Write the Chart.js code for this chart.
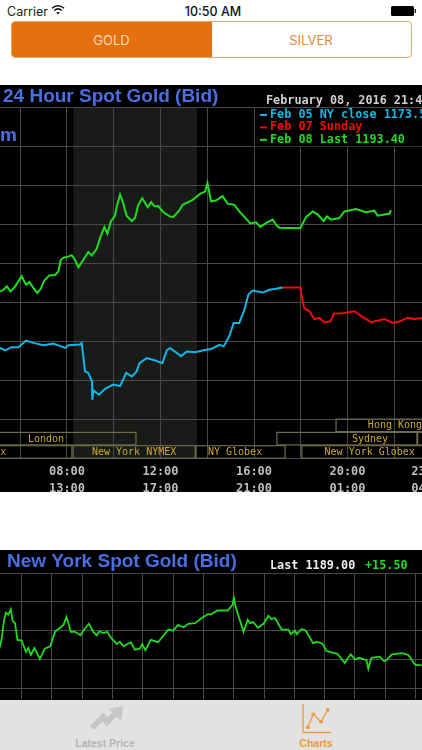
<!DOCTYPE html>
<html><head><meta charset="utf-8">
<script src="https://cdn.jsdelivr.net/npm/chart.js@4"></script>
<style>
html,body{margin:0;padding:0;background:#fff;width:422px;height:750px;overflow:hidden}
#page{position:relative;width:422px;height:750px;overflow:hidden;font-family:Inter,Roboto,sans-serif}
.abs{position:absolute}
canvas{position:absolute;filter:blur(0.35px)}
#c1{left:-40px;top:85px}
#c2{left:0;top:550px}
#seg{left:10.5px;top:21px;width:399px;height:35px;border:1px solid #f0a468;border-radius:4px;overflow:hidden;display:flex;font-size:13px;background:#fff}
#seg div{display:flex;align-items:center;justify-content:center}
#gold{width:200px;background:#e4700e;color:#f6d8bc}
#silver{width:199px;color:#e5853a}
#tab{left:0;top:700px;width:422px;height:50px;background:#e2e2e2}
.tl{position:absolute;top:37px;font-size:10.5px;font-weight:700;text-align:center;font-family:"Liberation Sans",sans-serif}
</style></head><body>
<div id="page">
  <div class="abs" style="left:7px;top:3px;font-size:12.5px;line-height:17px;color:#222">Carrier</div>
  <svg class="abs" style="left:51px;top:4px" width="14" height="12" viewBox="0 0 14 12"><path d="M1 4.2C4.5 1 9.5 1 13 4.2" fill="none" stroke="#111" stroke-width="1.5"/><path d="M3.2 6.5C5.5 4.5 8.5 4.5 10.8 6.5" fill="none" stroke="#111" stroke-width="1.5"/><path d="M5.2 8.6L7 10.6L8.8 8.6C7.7 7.7 6.3 7.7 5.2 8.6Z" fill="#111"/></svg>
  <div class="abs" style="left:113px;top:3px;width:200px;text-align:center;font-size:12.5px;line-height:17px;font-weight:500;color:#111">10:50 AM</div>
  <svg class="abs" style="left:390px;top:5px" width="27" height="12" viewBox="0 0 27 12"><rect x="1" y="1" width="23" height="10" rx="1.5" fill="#000"/><rect x="24.6" y="4" width="1.4" height="4" fill="#333"/></svg>
  <div class="abs" id="seg"><div id="gold">GOLD</div><div id="silver">SILVER</div></div>

  <canvas id="c1" width="510" height="407"></canvas>
  <canvas id="c2" width="422" height="150"></canvas>

  <div class="abs" id="tab">
    <div class="tl" style="left:55px;width:100px;color:#b4b4b4">Latest Price</div>
    <div class="tl" style="left:266px;width:100px;color:#ee9a3c">Charts</div>
  </div>
  <svg class="abs" style="left:0;top:700px" width="422" height="50" viewBox="0 700 422 50">
    <path d="M92 728L103 717L107 722L117 712" fill="none" stroke="#c6c6c6" stroke-width="6"/>
    <path d="M109 709L123 706L121 721Z" fill="#c6c6c6"/>
    <path d="M303 704V732.5H331" fill="none" stroke="#ee9a3c" stroke-width="1.3"/>
    <path d="M307.7 727.3L313.3 714.3L321 721.7L327.7 710" fill="none" stroke="#ee9a3c" stroke-width="1.3"/>
    <circle cx="307.7" cy="727.3" r="1.9" fill="#ee9a3c"/><circle cx="313.3" cy="714.3" r="1.9" fill="#ee9a3c"/><circle cx="321" cy="721.7" r="1.9" fill="#ee9a3c"/><circle cx="327.7" cy="710" r="1.9" fill="#ee9a3c"/>
  </svg>
</div>
<script>
// ---- 24 hour chart data (hour of day, $/oz) ----
const greenHours=[5.13,5.28,5.42,5.59,5.78,6.06,6.25,6.39,6.56,6.73,6.87,7.03,7.24,7.49,7.63,7.73,7.84,7.99,8.20,8.34,8.49,8.70,8.91,9.06,9.27,9.44,9.60,9.73,9.88,10.05,10.15,10.27,10.38,10.55,10.77,10.91,11.05,11.22,11.45,11.60,11.74,11.91,12.12,12.41,12.55,12.77,12.95,13.34,13.69,13.91,14.01,14.16,14.37,14.66,14.87,15.16,15.37,15.59,15.84,16.09,16.27,16.51,16.80,16.94,17.08,17.98,18.23,18.51,18.73,18.98,19.12,19.30,19.65,19.87,20.37,20.79,21.15,21.29,21.58,21.79,21.86];
const greenValues=[1172.9,1173.3,1174.2,1172.9,1174.2,1176.8,1174.6,1175.3,1173.8,1172.5,1173.5,1175.7,1177.0,1177.1,1178.0,1180.9,1181.5,1181.7,1182.2,1181.0,1179.1,1181.0,1183.0,1182.1,1183.8,1187.0,1189.4,1187.7,1190.9,1192.3,1195.1,1197.7,1196.0,1192.3,1190.9,1191.7,1195.1,1196.8,1194.5,1195.8,1194.7,1194.7,1193.2,1192.1,1192.0,1193.4,1195.1,1196.2,1197.9,1198.5,1200.7,1196.0,1196.2,1197.3,1195.4,1195.1,1193.4,1192.0,1190.3,1190.6,1189.4,1190.4,1191.3,1190.0,1189.2,1189.1,1192.0,1193.4,1192.6,1190.9,1192.1,1191.3,1191.7,1193.4,1194.0,1193.2,1193.6,1192.3,1192.6,1192.8,1193.7];
const blueHours=[5.13,5.35,5.63,5.92,6.25,6.56,6.99,7.42,7.92,8.06,8.56,8.63,8.77,8.91,9.07,9.08,9.13,9.37,9.63,9.98,10.27,10.53,10.77,10.98,11.10,11.41,11.77,12.08,12.27,12.41,12.88,13.12,13.48,13.84,14.16,14.52,14.70,14.94,15.13,15.37,15.59,15.76,15.94,16.16,16.37,16.66,16.94,17.23];
const blueValues=[1158.4,1157.8,1158.6,1158.6,1160.3,1159.7,1159.1,1159.5,1158.4,1159.1,1159.3,1159.7,1152.4,1152.0,1149.8,1145.1,1147.5,1146.4,1147.9,1149.0,1148.6,1152.0,1151.1,1152.4,1154.5,1155.8,1155.2,1154.5,1157.8,1158.4,1156.3,1157.5,1157.3,1157.8,1158.1,1159.2,1158.8,1161.4,1164.8,1164.8,1168.2,1172.1,1173.1,1172.9,1172.6,1173.3,1173.6,1173.9];
const redHours=[17.23,17.98,18.01,18.15,18.37,18.58,18.80,19.01,19.27,19.41,19.79,20.29,20.51,21.01,21.58,21.93,22.22,22.58,22.86,23.19];
const redValues=[1173.9,1173.9,1172.5,1168.6,1167.8,1165.8,1166.1,1165.0,1165.2,1167.2,1167.3,1167.8,1166.9,1165.0,1165.8,1164.8,1165.2,1166.1,1165.8,1166.1];

// tick labels: primary and secondary clock per labelled hour
const labelHours=[8,12,16,20,23.5];
const timeTopLabels=["08:00","12:00","16:00","20:00","23:30"];
const timeBottomLabels=["13:00","17:00","21:00","01:00","04:30"];

// market sessions (start hour, end hour, label hour, row from bottom)
const sessionNames=["NY Globex","New York NYMEX","NY Globex","New York Globex","London","Sydney","","Hong Kong"];
const sessionStart=[0.27,8.26,13.52,18.05,3.25,16.98,23.0,19.51];
const sessionEnd=[8.21,13.48,17.33,23.85,10.95,22.97,26.0,25.5];
const sessionLabelAt=[4.24,10.87,15.19,20.95,7.1,20.96,24.5,22.03];
const sessionRow=[0,0,0,0,1,1,1,2];
const nymexBand=[8.27,13.56];

// legend
const legendLabels=["Feb 05 NY close 1173.5","Feb 07 Sunday","Feb 08 Last 1193.40"];
const BLUE="#14b6e6",RED="#f00a0a",GREEN="#1fdd1f";
const legendColors=[BLUE,RED,GREEN];

// ---- New York chart data ----
const nyHours=[10.14,10.17,10.21,10.24,10.28,10.32,10.35,10.39,10.43,10.50,10.57,10.61,10.65,10.71,10.80,10.88,10.97,11.05,11.13,11.19,11.24,11.31,11.38,11.47,11.53,11.61,11.68,11.74,11.78,11.85,11.91,11.98,12.07,12.12,12.18,12.30,12.37,12.45,12.49,12.54,12.63,12.75,12.92,13.00,13.08,13.17,13.25,13.36,13.47,13.58,13.62,13.73,13.90,13.98,14.00,14.03,14.16,14.23,14.27,14.32,14.40,14.49,14.57,14.62,14.68,14.79,14.90,14.94,15.01,15.04,15.12,15.19,15.31,15.37,15.46,15.53,15.60,15.71,15.83,15.93,16.00,16.07,16.19,16.22,16.27,16.41,16.48,16.52,16.61,16.78,16.88,16.99,17.10];
const nyValues=[1192.1,1193.7,1196.9,1198.1,1197.8,1198.7,1196.7,1196.3,1193.4,1193.3,1191.3,1192.0,1190.8,1192.0,1190.1,1191.9,1192.3,1194.8,1195.5,1196.0,1197.4,1194.8,1194.8,1194.2,1195.2,1196.2,1194.8,1194.2,1194.9,1194.6,1194.8,1193.7,1192.7,1193.1,1192.3,1193.0,1191.7,1191.9,1192.7,1191.6,1193.4,1193.0,1195.2,1195.0,1196.0,1195.6,1196.2,1196.3,1197.2,1197.9,1197.8,1198.5,1198.5,1199.5,1200.7,1199.2,1194.8,1196.9,1196.3,1196.5,1195.5,1196.2,1197.6,1197.0,1197.2,1195.2,1195.2,1194.4,1195.0,1194.4,1195.3,1195.0,1192.8,1193.1,1192.8,1191.5,1191.3,1191.0,1189.4,1190.9,1190.0,1190.3,1189.9,1188.4,1190.3,1190.5,1189.7,1189.9,1190.9,1191.1,1190.8,1189.1,1189.0];

const zip=(xs,ys)=>xs.map((x,i)=>({x,y:ys[i]}));
const GRID="#484848";
const MONO='"DejaVu Sans Mono",monospace';
const TITLE_FONT='bold 19px "Liberation Sans",Arial,sans-serif';
function line(data,color){return{data,borderColor:color,borderWidth:2,pointRadius:0,tension:0,fill:false,clip:false}}
function txt(ctx,s,x,y,font,color,align){ctx.font=font;ctx.fillStyle=color;ctx.textAlign=align||"left";ctx.textBaseline="middle";ctx.fillText(s,x,y)}

const bgPlugin={id:"bg",beforeDraw(c){const g=c.ctx;g.save();g.fillStyle="#000";g.fillRect(0,0,c.width,c.height);g.restore()}};

const c1Plugin={id:"c1deco",
 beforeDraw(c){const g=c.ctx,x=c.scales.x,a=c.chartArea;g.save();g.fillStyle="#181b18";
  g.fillRect(x.getPixelForValue(nymexBand[0]),a.top,x.getPixelForValue(nymexBand[1])-x.getPixelForValue(nymexBand[0]),a.bottom-a.top);g.restore()},
 afterDraw(c){const g=c.ctx,x=c.scales.x,a=c.chartArea;g.save();
  // session boxes
  g.lineWidth=1.2;g.strokeStyle="#6f6b4c";
  sessionNames.forEach((n,i)=>{const x0=x.getPixelForValue(sessionStart[i]),x1=x.getPixelForValue(sessionEnd[i]);
   const b=a.bottom-0.5-sessionRow[i]*13.3,t=b-12.5;g.strokeRect(x0,t,x1-x0,b-t);
   if(n)txt(g,n,x.getPixelForValue(sessionLabelAt[i]),(t+b)/2+.5,"10px "+MONO,"#cda92c","center")});
  // header texts
  txt(g,"24 Hour Spot Gold (Bid)",43,11.5,TITLE_FONT,"#4a6fe3");
  txt(g,"m",40,51,TITLE_FONT,"#4a6fe3");
  txt(g,"February 08, 2016 21:45",306,15.5,"bold 11.8px "+MONO,"#d0d0d0");
  // legend panel
  g.fillStyle="#000";g.fillRect(295,a.top+1,c.width-295,37.6);
  legendLabels.forEach((s,i)=>{const y=30+i*12.4;g.fillStyle=legendColors[i];g.fillRect(300,y-1,7,2);
   txt(g,s,310,y,"bold 11.8px "+MONO,legendColors[i])});
  g.restore()}};

const c2Plugin={id:"c2deco",afterDraw(c){const g=c.ctx;g.save();
  txt(g,"New York Spot Gold (Bid)",7,11.5,TITLE_FONT,"#4a6fe3");
  txt(g,"Last 1189.00",270,16,"bold 11.8px "+MONO,"#f0f0f0");
  txt(g,"+15.50",365,16,"bold 11.8px "+MONO,"#22dd22");
  g.restore()}};

new Chart(document.getElementById("c1"),{type:"line",
 data:{datasets:[line(zip(greenHours,greenValues),GREEN),line(zip(blueHours,blueValues),BLUE),line(zip(redHours,redValues),RED)]},
 plugins:[bgPlugin,c1Plugin],
 options:{responsive:false,animation:false,parsing:false,normalized:true,
  layout:{padding:{top:22.7,left:0,right:0,bottom:0}},
  plugins:{legend:{display:false},title:{display:false},tooltip:{enabled:false}},
  scales:{
   x:{type:"linear",min:3.4225,max:25.2406,
     afterFit(s){s.height=33.3},
     afterBuildTicks(s){s.ticks=s.ticks.filter(t=>t.value<24);s.ticks.push({value:23.5})},
     grid:{color:c=>c.tick&&c.tick.value===23.5?"transparent":GRID,lineWidth:1,drawTicks:false},border:{display:false},
     ticks:{stepSize:2,includeBounds:false,autoSkip:false,maxRotation:0,padding:5,color:"#bdbdbd",
       font:{family:"DejaVu Sans Mono",size:12,weight:"bold",lineHeight:1.4},
       callback(v){const i=labelHours.indexOf(v);return i<0?"":[timeTopLabels[i],timeBottomLabels[i]]}}},
   y:{type:"linear",min:1130,max:1220,afterFit(s){s.width=0},
     grid:{color:GRID,lineWidth:1,drawTicks:false},border:{display:false},
     ticks:{display:false,stepSize:10}}
  }}});

new Chart(document.getElementById("c2"),{type:"line",
 data:{datasets:[Object.assign(line(zip(nyHours,nyValues),"#22d81f"),{borderWidth:1.8})]},
 plugins:[bgPlugin,c2Plugin],
 options:{responsive:false,animation:false,parsing:false,normalized:true,
  layout:{padding:{top:23,left:0,right:0,bottom:1}},
  plugins:{legend:{display:false},title:{display:false},tooltip:{enabled:false}},
  scales:{
   x:{type:"linear",min:10.142,max:17.106,
     grid:{color:GRID,lineWidth:1,drawTicks:false},border:{display:false},
     ticks:{display:false,stepSize:0.5,includeBounds:false}},
   y:{type:"linear",min:1183.16,max:1205,afterFit(s){s.width=0},
     grid:{color:GRID,lineWidth:1,drawTicks:false},border:{display:false},
     ticks:{display:false,stepSize:5,includeBounds:false}}
  }}});
</script>
</body></html>
